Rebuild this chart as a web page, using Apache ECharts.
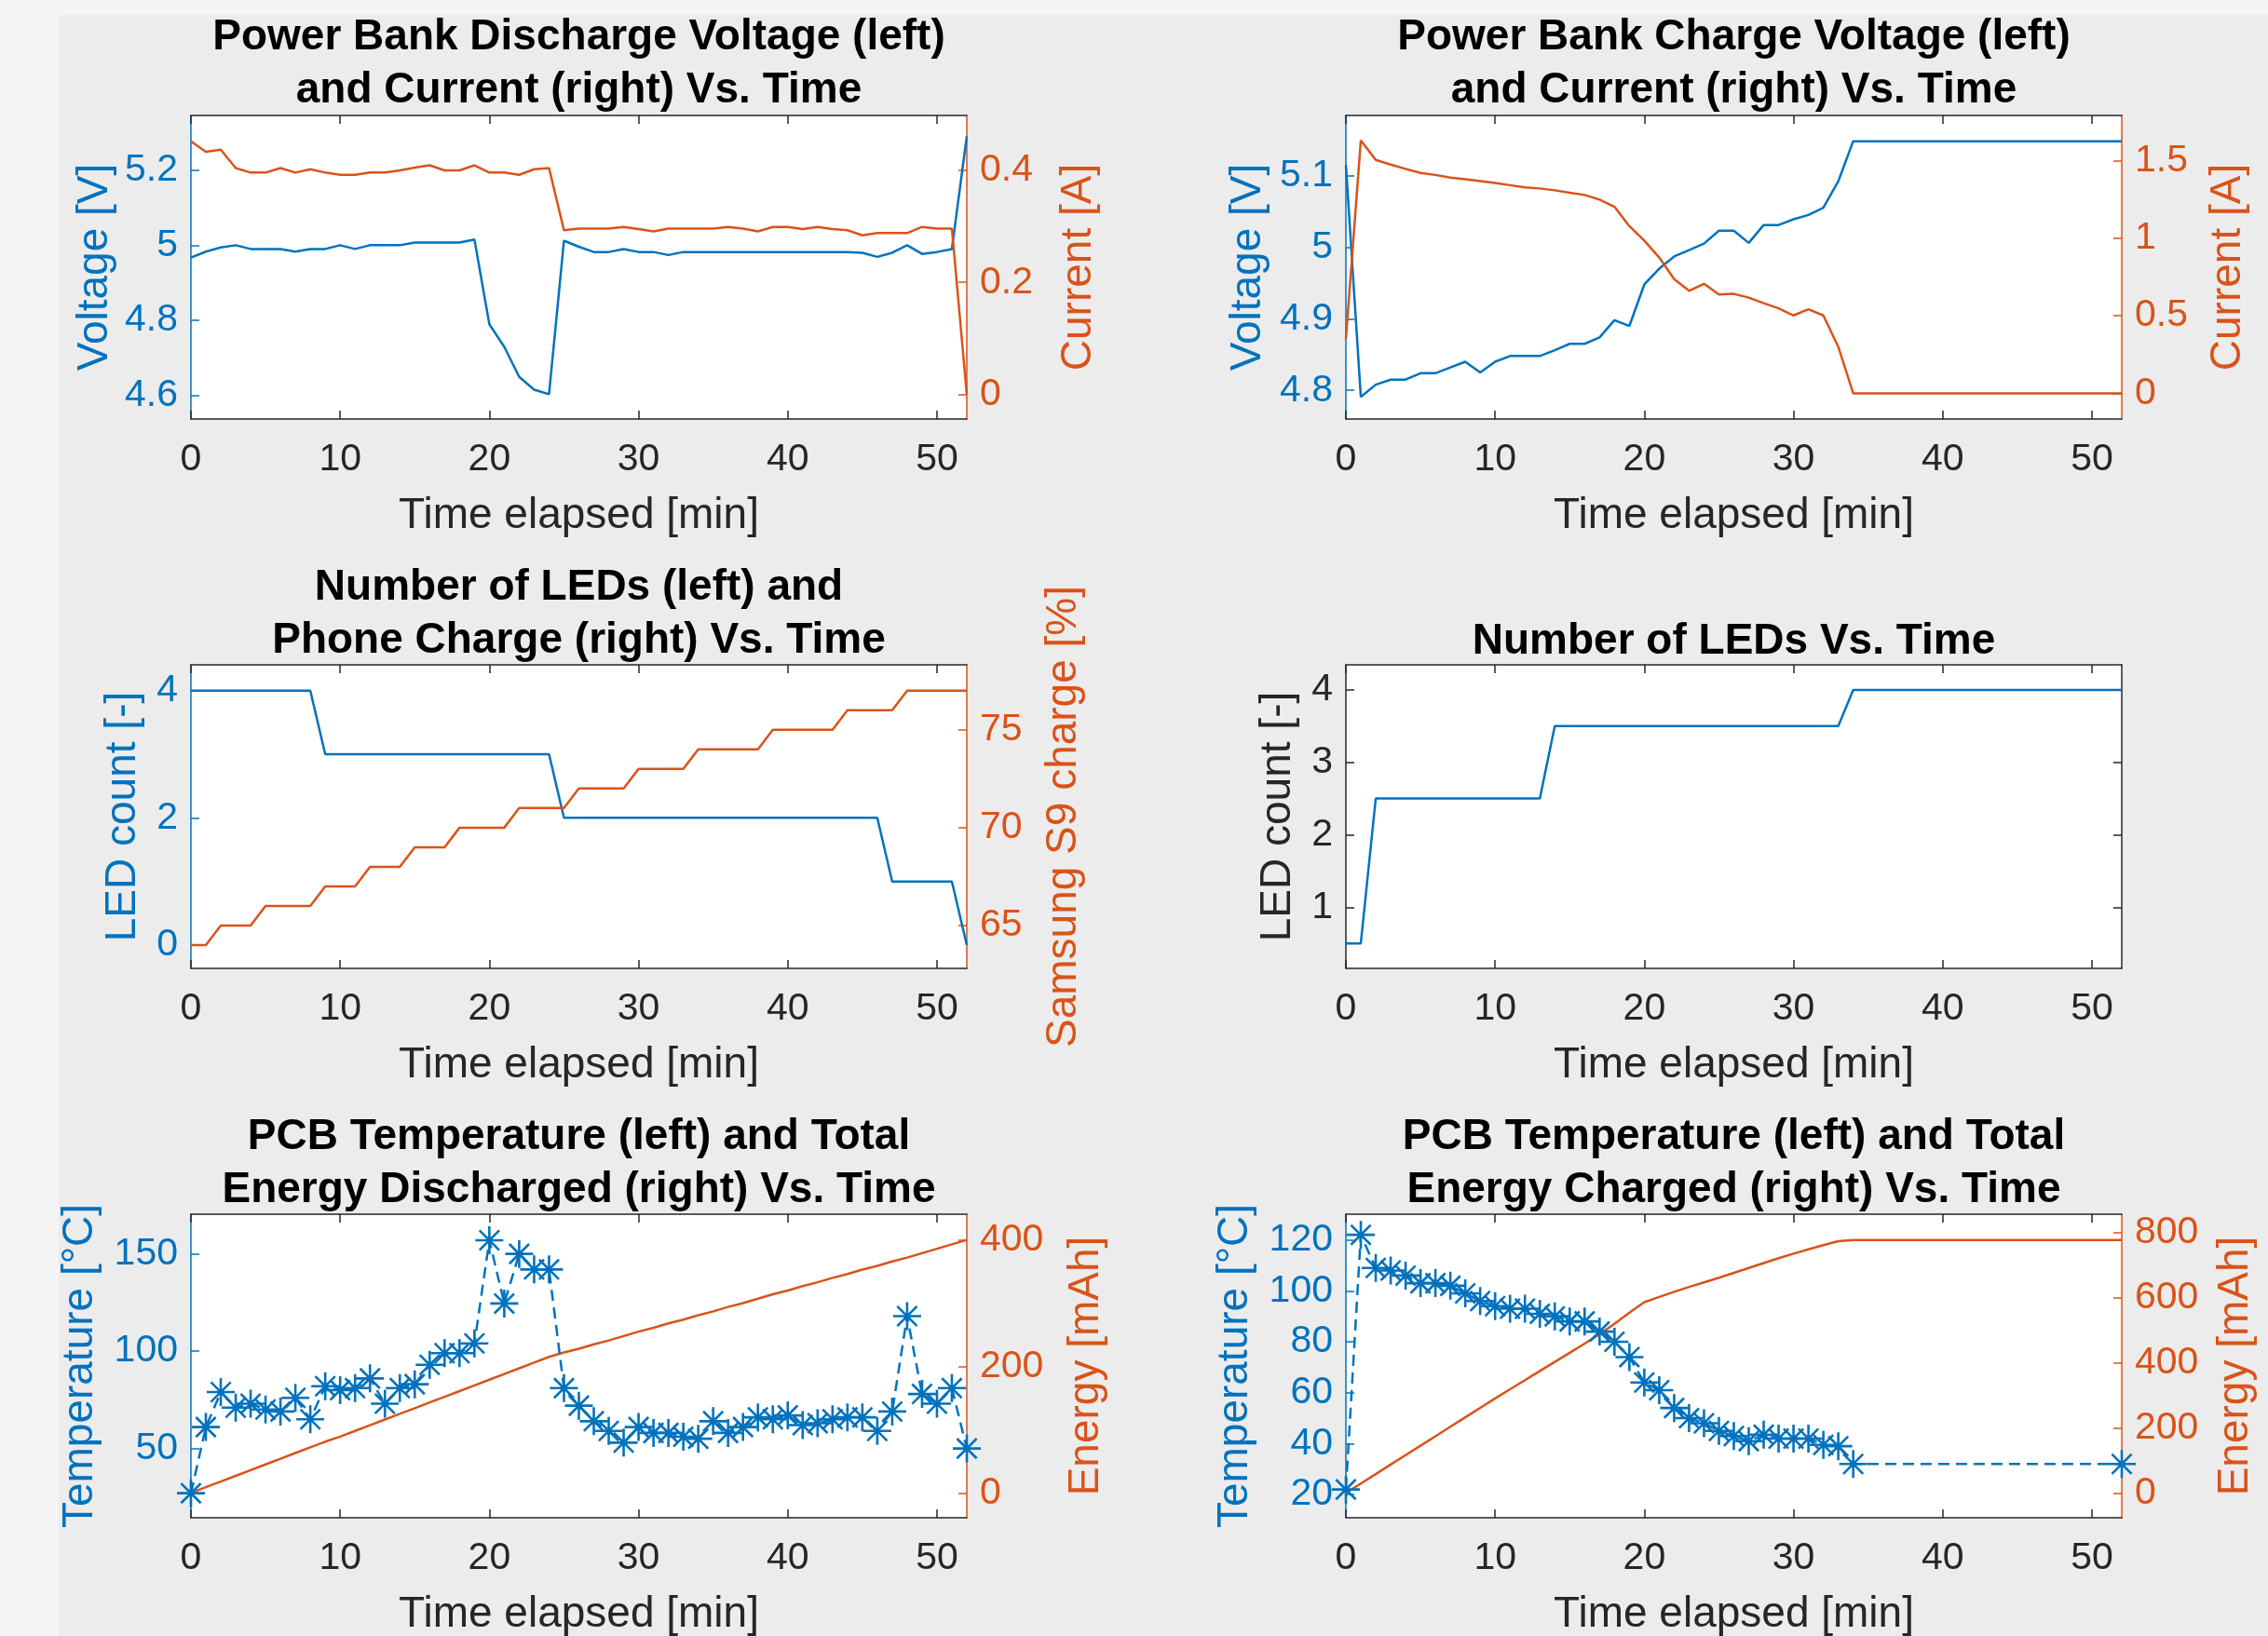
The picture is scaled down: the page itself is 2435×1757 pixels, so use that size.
<!DOCTYPE html>
<html><head><meta charset="utf-8">
<script src="https://cdn.jsdelivr.net/npm/echarts@6/dist/echarts.min.js"></script>
<style>html,body{margin:0;padding:0;background:#f4f4f4}#c{width:2435px;height:1757px}</style>
</head><body><div id="c"></div>
<script>
// ---------------- DATA ----------------
const timeMin = [0,1,2,3,4,5,6,7,8,9,10,11,12,13,14,15,16,17,18,19,20,21,22,23,24,25,26,27,28,29,30,31,32,33,34,35,36,37,38,39,40,41,42,43,44,45,46,47,48,49,50,51,52];
const timeTempCharge = [0,1,2,3,4,5,6,7,8,9,10,11,12,13,14,15,16,17,18,19,20,21,22,23,24,25,26,27,28,29,30,31,32,33,34,52];

const dischargeVoltage = [4.967,4.983,4.994,5.0,4.99,4.99,4.99,4.983,4.99,4.99,5.0,4.99,5.0,5.0,5.0,5.007,5.007,5.007,5.007,5.015,4.79,4.73,4.65,4.616,4.604,5.012,4.996,4.982,4.982,4.99,4.982,4.982,4.974,4.982,4.982,4.982,4.982,4.982,4.982,4.982,4.982,4.982,4.982,4.982,4.982,4.98,4.969,4.98,5.0,4.977,4.982,4.99,5.29];
const dischargeCurrent = [0.452,0.433,0.437,0.404,0.396,0.396,0.404,0.396,0.402,0.396,0.392,0.392,0.396,0.396,0.4,0.405,0.409,0.4,0.4,0.409,0.396,0.396,0.392,0.402,0.404,0.293,0.296,0.296,0.296,0.299,0.295,0.291,0.296,0.296,0.296,0.296,0.299,0.296,0.291,0.299,0.299,0.295,0.299,0.295,0.293,0.284,0.288,0.288,0.288,0.299,0.296,0.296,0.0];

const chargeVoltage = [5.115,4.791,4.808,4.815,4.815,4.824,4.824,4.832,4.84,4.825,4.84,4.848,4.848,4.848,4.856,4.865,4.865,4.874,4.898,4.89,4.948,4.97,4.987,4.996,5.005,5.023,5.023,5.006,5.031,5.031,5.039,5.045,5.055,5.092,5.148,5.148,5.148,5.148,5.148,5.148,5.148,5.148,5.148,5.148,5.148,5.148,5.148,5.148,5.148,5.148,5.148,5.148,5.148];
const chargeCurrent = [0.35,1.629,1.504,1.474,1.446,1.42,1.407,1.39,1.379,1.367,1.355,1.341,1.327,1.32,1.308,1.292,1.278,1.248,1.202,1.077,0.984,0.875,0.736,0.661,0.706,0.637,0.641,0.617,0.581,0.548,0.502,0.542,0.502,0.3,0,0,0,0,0,0,0,0,0,0,0,0,0,0,0,0,0,0,0];

const ledCountDischarge = [4,4,4,4,4,4,4,4,4,3,3,3,3,3,3,3,3,3,3,3,3,3,3,3,3,2,2,2,2,2,2,2,2,2,2,2,2,2,2,2,2,2,2,2,2,2,2,1,1,1,1,1,0];
const phoneCharge = [64,64,65,65,65,66,66,66,66,67,67,67,68,68,68,69,69,69,70,70,70,70,71,71,71,71,72,72,72,72,73,73,73,73,74,74,74,74,74,75,75,75,75,75,76,76,76,76,77,77,77,77,77];

const ledCountCharge = [0.5,0.5,2.5,2.5,2.5,2.5,2.5,2.5,2.5,2.5,2.5,2.5,2.5,2.5,3.5,3.5,3.5,3.5,3.5,3.5,3.5,3.5,3.5,3.5,3.5,3.5,3.5,3.5,3.5,3.5,3.5,3.5,3.5,3.5,4,4,4,4,4,4,4,4,4,4,4,4,4,4,4,4,4,4,4];

const tempDischarge = [27,61,79,71,73,70,69,76,65,82,80,81,86,73,81,83,93,99,99,104,157,124.5,150,142,142,81,72,64,59,53,61,58,58,56,55,64,58,61,66,65,67,62,63,65,66,66,59,69,118,78,73,81,50];
const energyDischarged = [0,9,18,27,36,45,54,63,72,81,89,98,107,116,125,134,143,152,161,170,179,188,197,206,215,222,228,235,241,248,255,261,268,274,281,287,294,300,307,314,320,327,333,340,346,353,359,366,372,379,386,393,400];

const tempCharge = [22,122,109,108,106,103,103,102,99,96,94,93,93,91,90,88,88,84,80,74,64,61,54,50,48,45,43,41,43.5,42,42,42,39.5,39,32,32];
const energyCharged = [0,29,58,87,116,145,174,203,232,261,290,318,346,374,402,430,458,487,519,553,585,601,617,632,646,660,675,690,705,720,734,747,760,772,776,776,776,776,776,776,776,776,776,776,776,776,776,776,776,776,776,776,776];

// tick labels
const xTicks = [0,10,20,30,40,50];
const ticksV1 = [4.6,4.8,5,5.2];
const ticksI1 = [0,0.2,0.4];
const ticksV2 = [4.8,4.9,5,5.1];
const ticksI2 = [0,0.5,1,1.5];
const ticksLed3 = [0,2,4];
const ticksPhone = [65,70,75];
const ticksLed4 = [1,2,3,4];
const ticksT5 = [50,100,150];
const ticksE5 = [0,200,400];
const ticksT6 = [20,40,60,80,100,120];
const ticksE6 = [0,200,400,600,800];

const titles = [
  'Power Bank Discharge Voltage (left)\nand Current (right) Vs. Time',
  'Power Bank Charge Voltage (left)\nand Current (right) Vs. Time',
  'Number of LEDs (left) and\nPhone Charge (right) Vs. Time',
  'Number of LEDs Vs. Time',
  'PCB Temperature (left) and Total\nEnergy Discharged (right) Vs. Time',
  'PCB Temperature (left) and Total\nEnergy Charged (right) Vs. Time'
];

// ---------------- STYLE / LAYOUT ----------------
const FONT = '"Liberation Sans", Arial, Helvetica, sans-serif';
const BLUE = '#0072BD', ORANGE = '#D95319', AX = '#262626';
const TICK_FS = 41, NAME_FS = 46, TITLE_FS = 46;
const W = 833, H = 326;
const gridPos = [[205,124],[1445,124],[205,714],[1445,714],[205,1304],[1445,1304]];
const titleTop = [12,12,603,661,1193,1193];

const zip = (xs, ys) => xs.map((x, i) => [x, ys[i]]);

const grids = gridPos.map(p => ({left:p[0], top:p[1], width:W, height:H, show:true, backgroundColor:'#ffffff', borderWidth:0, containLabel:false, outerBoundsMode:'none'}));

const xAxes = [], yAxes = [];
gridPos.forEach((p, g) => {
  xAxes.push({type:'value', gridIndex:g, position:'bottom', min:0, max:52,
    name:'Time elapsed [min]', nameLocation:'middle', nameGap:81,
    nameTextStyle:{fontSize:NAME_FS, color:AX, fontFamily:FONT},
    axisLine:{show:true, onZero:false, lineStyle:{color:AX, width:1.5}},
    axisTick:{show:true, inside:true, length:9, customValues:xTicks, lineStyle:{color:AX, width:1.5}},
    axisLabel:{customValues:xTicks, margin:23, fontSize:TICK_FS, color:AX, fontFamily:FONT},
    splitLine:{show:false}});
  xAxes.push({type:'value', gridIndex:g, position:'top', min:0, max:52,
    axisLine:{show:true, onZero:false, lineStyle:{color:AX, width:1.5}},
    axisTick:{show:true, inside:true, length:9, customValues:xTicks, lineStyle:{color:AX, width:1.5}},
    axisLabel:{show:false}, splitLine:{show:false}});
});

function yAx(g, pos, min, max, ticks, name, color, gap, showLabels) {
  return {type:'value', gridIndex:g, position:pos, min:min, max:max,
    name:name, nameLocation:'middle', nameGap:gap, nameRotate:90,
    nameTextStyle:{fontSize:NAME_FS, color:color, fontFamily:FONT},
    axisLine:{show:true, onZero:false, lineStyle:{color:color, width:1.5}},
    axisTick:{show:true, inside:true, length:9, customValues:ticks, lineStyle:{color:color, width:1.5}},
    axisLabel:{show:showLabels, customValues:ticks, margin:14, fontSize:TICK_FS, color:color, fontFamily:FONT},
    splitLine:{show:false}};
}
yAxes.push(yAx(0,'left',4.538,5.345,ticksV1,'Voltage [V]',BLUE,80,true));
yAxes.push(yAx(0,'right',-0.044,0.498,ticksI1,'Current [A]',ORANGE,97,true));
yAxes.push(yAx(1,'left',4.76,5.184,ticksV2,'Voltage [V]',BLUE,82,true));
yAxes.push(yAx(1,'right',-0.165,1.79,ticksI2,'Current [A]',ORANGE,91,true));
yAxes.push(yAx(2,'left',-0.366,4.405,ticksLed3,'LED count [-]',BLUE,50,true));
yAxes.push(yAx(2,'right',62.81,78.32,ticksPhone,'Samsung S9 charge [%]',ORANGE,81,true));
yAxes.push(yAx(3,'left',0.155,4.346,ticksLed4,'LED count [-]',AX,50,true));
yAxes.push(yAx(3,'right',0.155,4.346,ticksLed4,'',AX,10,false));
yAxes.push(yAx(4,'left',14.4,170.4,ticksT5,'Temperature [°C]',BLUE,96,true));
yAxes.push(yAx(4,'right',-39.3,440.7,ticksE5,'Energy [mAh]',ORANGE,105,true));
yAxes.push(yAx(5,'left',10.9,130.1,ticksT6,'Temperature [°C]',BLUE,96,true));
yAxes.push(yAx(5,'right',-76,855,ticksE6,'Energy [mAh]',ORANGE,99,true));

const STAR = 'path://M0,-10L0,10M-10,0L10,0M-7.07,-7.07L7.07,7.07M-7.07,7.07L7.07,-7.07';

function solid(g, side, data, color) {
  return {type:'line', xAxisIndex:2*g, yAxisIndex:2*g+side, data:data, symbol:'none', showSymbol:false,
    lineStyle:{color:color, width:2.5}, itemStyle:{color:color}, animation:false, silent:true};
}
function starDash(g, data) {
  return {type:'line', xAxisIndex:2*g, yAxisIndex:2*g, data:data, symbol:STAR, symbolSize:30, showSymbol:true,
    symbolKeepAspect:true, z:5,
    lineStyle:{color:BLUE, width:2.5, type:[12,7]},
    itemStyle:{color:'rgba(0,0,0,0)', borderColor:BLUE, borderWidth:2.6}, animation:false, silent:true};
}

const series = [
  solid(0,0,zip(timeMin,dischargeVoltage),BLUE),
  solid(0,1,zip(timeMin,dischargeCurrent),ORANGE),
  solid(1,0,zip(timeMin,chargeVoltage),BLUE),
  solid(1,1,zip(timeMin,chargeCurrent),ORANGE),
  solid(2,0,zip(timeMin,ledCountDischarge),BLUE),
  solid(2,1,zip(timeMin,phoneCharge),ORANGE),
  solid(3,0,zip(timeMin,ledCountCharge),BLUE),
  solid(4,1,zip(timeMin,energyDischarged),ORANGE),
  starDash(4,zip(timeMin,tempDischarge)),
  solid(5,1,zip(timeMin,energyCharged),ORANGE),
  starDash(5,zip(timeTempCharge,tempCharge))
];

const titleOpts = titles.map((t, i) => ({text:t, left:gridPos[i][0] + W/2, top:titleTop[i], textAlign:'center', padding:0,
  textStyle:{fontSize:TITLE_FS, fontWeight:'bold', color:'#000', lineHeight:57, fontFamily:FONT}}));

const chart = echarts.init(document.getElementById('c'), null, {renderer:'canvas'});
chart.setOption({
  animation:false,
  backgroundColor:'#f4f4f4',
  graphic:[{type:'rect', z:-10, silent:true, shape:{x:63, y:16, width:2372, height:1741}, style:{fill:'#ececec'}}],
  title:titleOpts,
  grid:grids,
  xAxis:xAxes,
  yAxis:yAxes,
  series:series
});
</script></body></html>
